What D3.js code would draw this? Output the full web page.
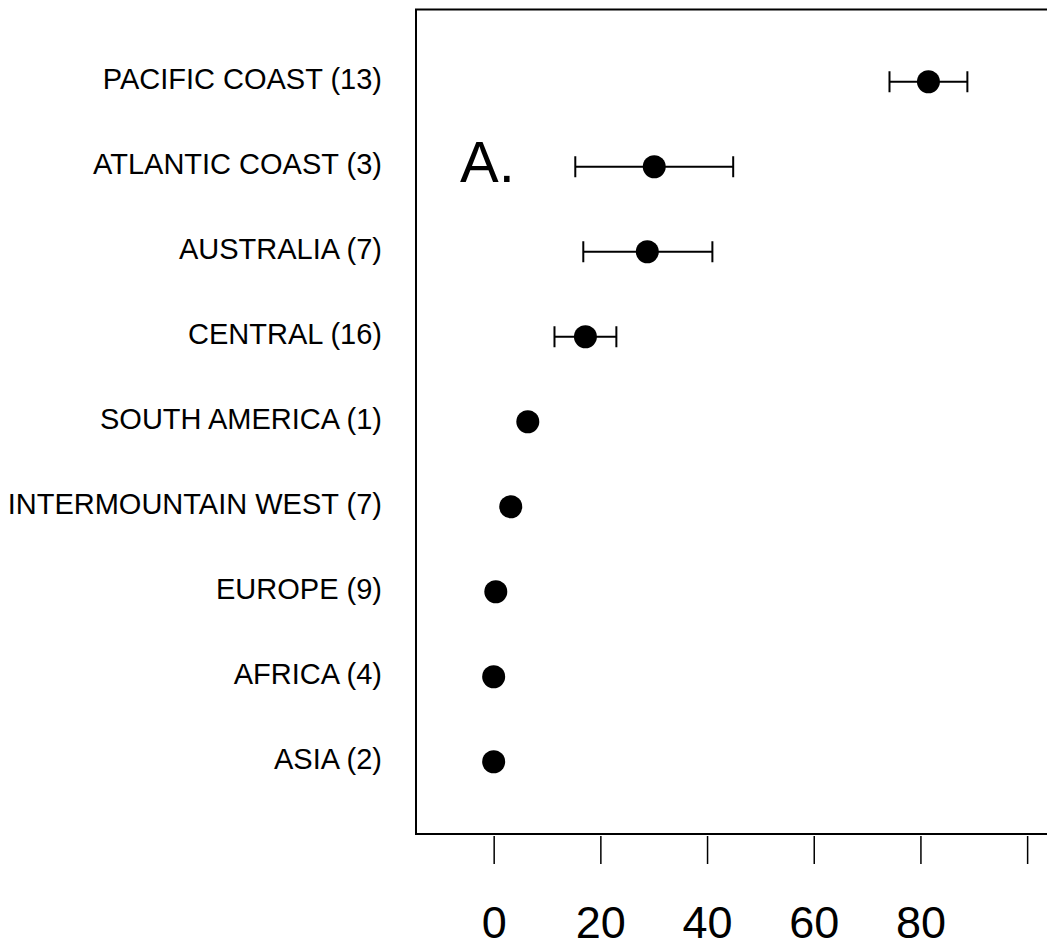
<!DOCTYPE html>
<html>
<head>
<meta charset="utf-8">
<script src="https://cdn.jsdelivr.net/npm/d3@7"></script>
<style>
  html, body { margin: 0; padding: 0; background: #fff; }
  svg { display: block; }
  text { font-family: "Liberation Sans", Arial, sans-serif; fill: #000; }
</style>
</head>
<body>
<svg id="chart" width="1047" height="943"></svg>
<script>
// Data (ordered top to bottom)
const categories = [
  "PACIFIC COAST (13)",
  "ATLANTIC COAST (3)",
  "AUSTRALIA (7)",
  "CENTRAL (16)",
  "SOUTH AMERICA (1)",
  "INTERMOUNTAIN WEST (7)",
  "EUROPE (9)",
  "AFRICA (4)",
  "ASIA (2)"
];
const means = [81.5, 30.1, 28.8, 17.2, 6.4, 3.2, 0.4, 0.0, 0.0];
const lower = [74.2, 15.3, 16.8, 11.4, null, null, null, null, null];
const upper = [88.8, 44.9, 41.0, 23.0, null, null, null, null, null];
const tickValues = [0, 20, 40, 60, 80, 100];
const tickLabels = ["0", "20", "40", "60", "80", ""];
const panelLabel = "A.";

const svg = d3.select("#chart");

const box = { left: 416, top: 9.5, right: 1073, bottom: 834 };

const x = d3.scaleLinear().domain([-14.56, 108.6]).range([box.left, box.right]);
const n = categories.length;
// position index: top category = n, bottom = 1
const y = d3.scaleLinear().domain([0.15, 9.85]).range([box.bottom, box.top]);
const yPos = i => y(n - i);

// Box
svg.append("rect")
  .attr("x", box.left).attr("y", box.top)
  .attr("width", box.right - box.left).attr("height", box.bottom - box.top)
  .attr("fill", "none").attr("stroke", "#000").attr("stroke-width", 2);

// Category labels
svg.append("g").selectAll("text")
  .data(categories).join("text")
  .attr("x", 382)
  .attr("y", (d, i) => yPos(i) + 7)
  .attr("text-anchor", "end")
  .style("font-size", "29px")
  .text(d => d);

// Error bars
const eb = svg.append("g").attr("stroke", "#000").attr("stroke-width", 2);
means.forEach((m, i) => {
  if (lower[i] == null) return;
  const cy = yPos(i);
  eb.append("line").attr("x1", x(lower[i])).attr("x2", x(upper[i])).attr("y1", cy).attr("y2", cy);
  eb.append("line").attr("x1", x(lower[i])).attr("x2", x(lower[i])).attr("y1", cy - 10.5).attr("y2", cy + 10.5);
  eb.append("line").attr("x1", x(upper[i])).attr("x2", x(upper[i])).attr("y1", cy - 10.5).attr("y2", cy + 10.5);
});

// Points
svg.append("g").selectAll("circle")
  .data(means).join("circle")
  .attr("cx", d => x(d))
  .attr("cy", (d, i) => yPos(i))
  .attr("r", 11.5)
  .attr("fill", "#000");

// Panel label
svg.append("text")
  .attr("x", 460).attr("y", 182)
  .style("font-size", "58px")
  .text(panelLabel);

// X axis
const axis = d3.axisBottom(x)
  .tickValues(tickValues)
  .tickSize(28)
  .tickFormat((d, i) => tickLabels[i]);
const gx = svg.append("g").attr("transform", "translate(0,836)").call(axis);
gx.select(".domain").remove();
gx.selectAll(".tick line").attr("stroke", "#000").attr("stroke-width", 1.5);
gx.selectAll(".tick text")
  .attr("y", 938 - 836).attr("dy", 0)
  .style("font-size", "45px")
  .attr("fill", "#000");
</script>
</body>
</html>
